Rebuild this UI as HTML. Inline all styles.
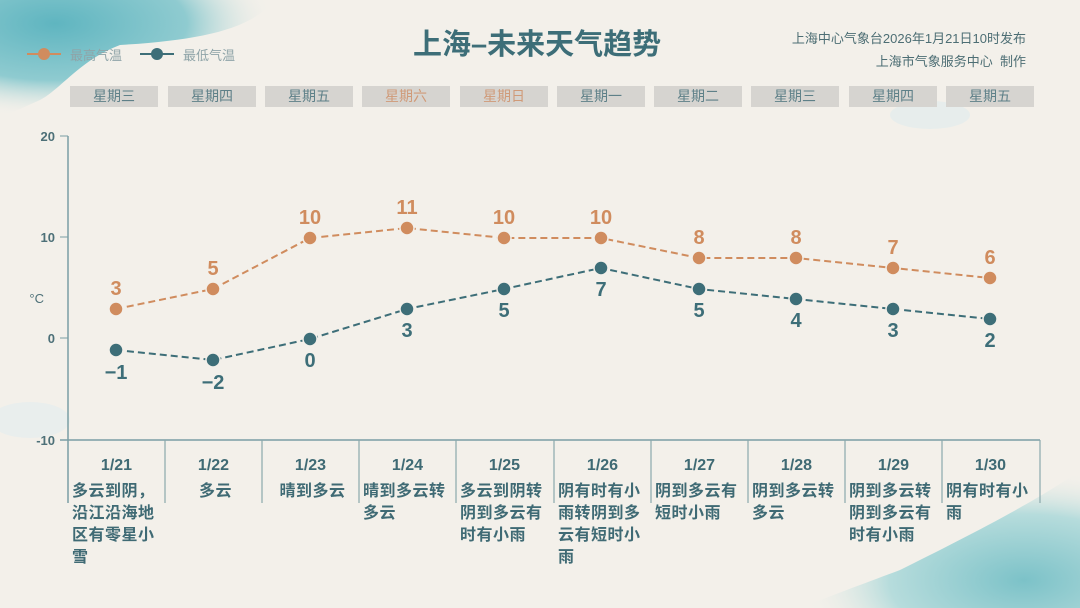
<!DOCTYPE html>
<html><head><meta charset="utf-8"><style>
body{margin:0;width:1080px;height:608px;overflow:hidden;background:#f3f0ea;font-family:"Liberation Sans","Noto Sans CJK SC",sans-serif;position:relative}
.a{position:absolute}
.wd{position:absolute;top:86px;width:88px;height:21px;background:#d6d4d0;color:#5e8088;font-size:14px;text-align:center;line-height:21px}
.col{position:absolute;top:455px;width:97px;color:#3f6a74;font-weight:bold;font-size:16px;line-height:22px}
.col .d{text-align:center;margin-bottom:4px}
.col .t{padding-left:4px;letter-spacing:0.5px}
</style></head><body>
<svg class="a" style="left:0;top:0" width="1080" height="608">
<defs>
<radialGradient id="g1" cx="0.2" cy="0.2" r="0.8"><stop offset="0" stop-color="#5fb5c0"/><stop offset="0.6" stop-color="#8fcbd0"/><stop offset="1" stop-color="#f3f0ea" stop-opacity="0"/></radialGradient>
<radialGradient id="g2" cx="0.8" cy="0.8" r="0.8"><stop offset="0" stop-color="#7cc2c8"/><stop offset="0.6" stop-color="#b6dcdc"/><stop offset="1" stop-color="#f3f0ea" stop-opacity="0"/></radialGradient>
</defs>
<path d="M0 0 H275 C250 30 200 40 120 45 C80 60 60 90 40 100 L0 118 Z" fill="url(#g1)"/>
<path d="M1080 470 C1040 500 960 540 900 570 C860 585 820 600 800 608 H1080 Z" fill="url(#g2)"/>
<ellipse cx="30" cy="420" rx="40" ry="18" fill="#e6eeee" opacity="0.8"/>
<ellipse cx="930" cy="115" rx="40" ry="14" fill="#e4ecec" opacity="0.8"/>
<line x1="68" y1="136" x2="68" y2="503" stroke="#7a9ea4" stroke-width="1.5"/>
<line x1="60" y1="136" x2="68" y2="136" stroke="#7a9ea4"/>
<line x1="60" y1="237" x2="68" y2="237" stroke="#7a9ea4"/>
<line x1="60" y1="338" x2="68" y2="338" stroke="#7a9ea4"/>
<line x1="60" y1="440" x2="1040" y2="440" stroke="#7a9ea4" stroke-width="1.5"/>
<g stroke="#8aa8ac" stroke-width="1.2">
<line x1="165" y1="440" x2="165" y2="503"/><line x1="262" y1="440" x2="262" y2="503"/><line x1="359" y1="440" x2="359" y2="503"/><line x1="456" y1="440" x2="456" y2="503"/><line x1="554" y1="440" x2="554" y2="503"/><line x1="651" y1="440" x2="651" y2="503"/><line x1="748" y1="440" x2="748" y2="503"/><line x1="845" y1="440" x2="845" y2="503"/><line x1="942" y1="440" x2="942" y2="503"/><line x1="1040" y1="440" x2="1040" y2="503"/>
</g>
<g font-family="Liberation Sans,sans-serif" font-weight="bold" font-size="13" fill="#4d7078" text-anchor="end">
<text x="55" y="141">20</text><text x="55" y="242">10</text><text x="55" y="343">0</text><text x="55" y="445">-10</text>
<text x="44" y="303" font-weight="normal">°C</text>
</g>
<polyline points="116,309 213,289 310,238 407,228 504,238 601,238 699,258 796,258 893,268 990,278" fill="none" stroke="#d08c5e" stroke-width="2" stroke-dasharray="7,4"/>
<polyline points="116,350 213,360 310,339 407,309 504,289 601,268 699,289 796,299 893,309 990,319" fill="none" stroke="#3d6e78" stroke-width="2" stroke-dasharray="7,4"/>
<g fill="#d08c5e" stroke="#f3f0ea" stroke-width="1.5">
<circle cx="116" cy="309" r="7"/><circle cx="213" cy="289" r="7"/><circle cx="310" cy="238" r="7"/><circle cx="407" cy="228" r="7"/><circle cx="504" cy="238" r="7"/><circle cx="601" cy="238" r="7"/><circle cx="699" cy="258" r="7"/><circle cx="796" cy="258" r="7"/><circle cx="893" cy="268" r="7"/><circle cx="990" cy="278" r="7"/>
</g>
<g fill="#3d6e78" stroke="#f3f0ea" stroke-width="1.5">
<circle cx="116" cy="350" r="7"/><circle cx="213" cy="360" r="7"/><circle cx="310" cy="339" r="7"/><circle cx="407" cy="309" r="7"/><circle cx="504" cy="289" r="7"/><circle cx="601" cy="268" r="7"/><circle cx="699" cy="289" r="7"/><circle cx="796" cy="299" r="7"/><circle cx="893" cy="309" r="7"/><circle cx="990" cy="319" r="7"/>
</g>
<g font-family="Liberation Sans,sans-serif" font-weight="bold" font-size="20" fill="#d08c5e" text-anchor="middle">
<text x="116" y="295">3</text><text x="213" y="275">5</text><text x="310" y="224">10</text><text x="407" y="214">11</text><text x="504" y="224">10</text><text x="601" y="224">10</text><text x="699" y="244">8</text><text x="796" y="244">8</text><text x="893" y="254">7</text><text x="990" y="264">6</text>
</g>
<g font-family="Liberation Sans,sans-serif" font-weight="bold" font-size="20" fill="#3d6e78" text-anchor="middle">
<text x="116" y="379">−1</text><text x="213" y="389">−2</text><text x="310" y="367">0</text><text x="407" y="337">3</text><text x="504" y="317">5</text><text x="601" y="296">7</text><text x="699" y="317">5</text><text x="796" y="327">4</text><text x="893" y="337">3</text><text x="990" y="347">2</text>
</g>
<line x1="27" y1="54" x2="61" y2="54" stroke="#d08c5e" stroke-width="2"/><circle cx="44" cy="54" r="6" fill="#d08c5e"/>
<line x1="140" y1="54" x2="174" y2="54" stroke="#3d6e78" stroke-width="2"/><circle cx="157" cy="54" r="6" fill="#3d6e78"/>
</svg>
<div class="a" style="left:70px;top:45px;font-size:13px;color:#8fa4a8">最高气温</div>
<div class="a" style="left:183px;top:45px;font-size:13px;color:#8fa4a8">最低气温</div>
<div class="a" style="left:413px;top:21px;font-size:29px;font-weight:bold;color:#3d6e78">上海–未来天气趋势</div>
<div class="a" style="right:54px;top:27px;font-size:13px;color:#4d6e74;text-align:right;line-height:23px">上海中心气象台2026年1月21日10时发布<br>上海市气象服务中心&nbsp; 制作</div>
<div class="wd" style="left:70px">星期三</div>
<div class="wd" style="left:168px">星期四</div>
<div class="wd" style="left:265px">星期五</div>
<div class="wd" style="left:362px;color:#d09a78">星期六</div>
<div class="wd" style="left:460px;color:#d09a78">星期日</div>
<div class="wd" style="left:557px">星期一</div>
<div class="wd" style="left:654px">星期二</div>
<div class="wd" style="left:751px">星期三</div>
<div class="wd" style="left:849px">星期四</div>
<div class="wd" style="left:946px">星期五</div>
<div class="col" style="left:68px"><div class="d">1/21</div><div class="t">多云到阴，沿江沿海地区有零星小雪</div></div>
<div class="col" style="left:165px"><div class="d">1/22</div><div class="t" style="text-align:center">多云</div></div>
<div class="col" style="left:262px"><div class="d">1/23</div><div class="t" style="text-align:center">晴到多云</div></div>
<div class="col" style="left:359px"><div class="d">1/24</div><div class="t">晴到多云转多云</div></div>
<div class="col" style="left:456px"><div class="d">1/25</div><div class="t">多云到阴转阴到多云有时有小雨</div></div>
<div class="col" style="left:554px"><div class="d">1/26</div><div class="t">阴有时有小雨转阴到多云有短时小雨</div></div>
<div class="col" style="left:651px"><div class="d">1/27</div><div class="t">阴到多云有短时小雨</div></div>
<div class="col" style="left:748px"><div class="d">1/28</div><div class="t">阴到多云转多云</div></div>
<div class="col" style="left:845px"><div class="d">1/29</div><div class="t">阴到多云转阴到多云有时有小雨</div></div>
<div class="col" style="left:942px"><div class="d">1/30</div><div class="t">阴有时有小雨</div></div>
</body></html>
